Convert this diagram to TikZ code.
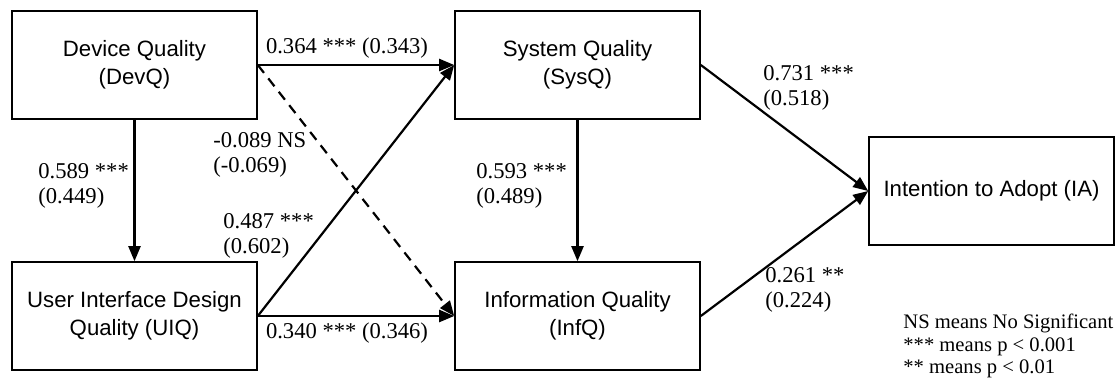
\documentclass[tikz,border=0pt]{standalone}
\usepackage{fontspec}
\setmainfont{Liberation Serif}
\newfontfamily\boxfont{Liberation Sans}
\usetikzlibrary{arrows.meta}
\tikzset{
  box/.style={draw, line width=0.8pt, minimum width=122.5pt, minimum height=54pt, inner sep=0pt,
    align=center, font=\boxfont\fontsize{11.1}{13.8}\selectfont},
  lbl/.style={inner sep=0pt, align=left, font=\fontsize{11.3}{12.6}\selectfont},
  legend/.style={inner sep=0pt, align=left, font=\fontsize{10.3}{11.2}\selectfont},
  arr/.style={line width=1.1pt, -{Triangle[length=7.5pt,width=6pt]}},
  darr/.style={arr, dash pattern=on 5pt off 3.5pt}
}
\begin{document}
\begin{tikzpicture}[x=0.5pt,y=-0.5pt]
\useasboundingbox (0,0) rectangle (1117,381);
\node[box] (devq) at (134.5,65) {Device Quality\\(DevQ)};
\node[box] (uiq) at (134.5,316) {User Interface Design\\Quality (UIQ)};
\node[box] (sysq) at (577.5,65) {System Quality\\(SysQ)};
\node[box] (infq) at (577.5,316) {Information Quality\\(InfQ)};
\node[box] (ia) at (991.5,191) {Intention to Adopt (IA)};

\draw[arr] (devq.east) -- (sysq.west);
\draw[arr] (devq.south) -- (uiq.north);
\draw[darr] (devq.east) -- (infq.west);
\draw[arr] (uiq.east) -- (sysq.west);
\draw[arr] (uiq.east) -- (infq.west);
\draw[arr] (sysq.south) -- (infq.north);
\draw[arr] (sysq.east) -- (ia.west);
\draw[arr] (infq.east) -- (ia.west);

\node[lbl] (l1) at (347,48) {0.364 *** (0.343)};
\node[lbl] (l2) at (347,333) {0.340 *** (0.346)};
\node[lbl, anchor=west] (l3) at (38,186) {0.589 ***\\(0.449)};
\node[lbl, anchor=west] (l4) at (213,155) {-0.089 NS\\(-0.069)};
\node[lbl, anchor=west] (l5) at (223,236) {0.487 ***\\(0.602)};
\node[lbl, anchor=west] (l6) at (476,186) {0.593 ***\\(0.489)};
\node[lbl, anchor=west] (l7) at (763,88) {0.731 ***\\(0.518)};
\node[lbl, anchor=west] (l8) at (765,290) {0.261 **\\(0.224)};
\node[legend, anchor=west] (lg) at (903,346) {NS means No Significant\\*** means p < 0.001\\** means p < 0.01};
\end{tikzpicture}
\end{document}
